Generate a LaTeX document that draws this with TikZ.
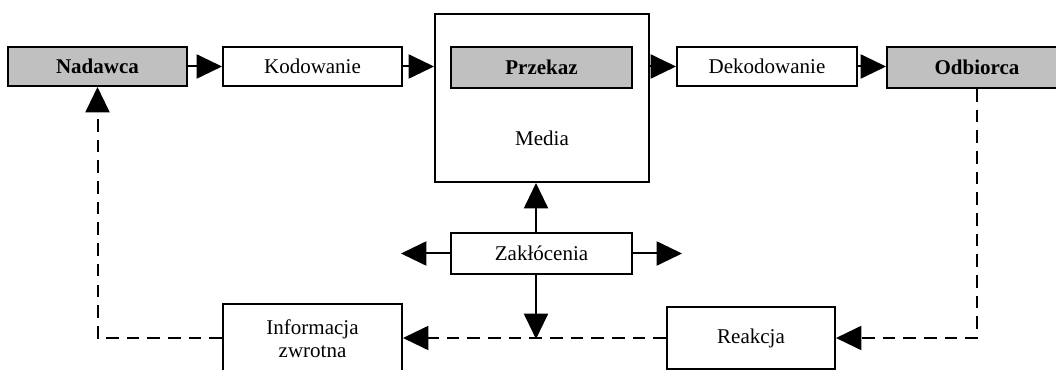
\documentclass[tikz,border=0pt]{standalone}
\usepackage{fontspec}
\setmainfont{Liberation Serif}
\usetikzlibrary{arrows.meta}
\definecolor{boxgray}{HTML}{C0C0C0}
\begin{document}
\begin{tikzpicture}[x=0.75pt,y=-0.75pt,
  every node/.style={font=\fontsize{15.75}{18.5}\selectfont},
  box/.style={draw=black,line width=1.5pt,fill=white,inner sep=0pt,align=center},
  graybox/.style={box,fill=boxgray,font=\fontsize{15.75}{18.5}\selectfont\bfseries},
  arr/.style={line width=1.5pt,-{Triangle[length=19pt,width=18pt]}},
  dsh/.style={dash pattern=on 9.5pt off 6pt}]
\useasboundingbox (0,0) rectangle (1056,370);
\clip (0,0) rectangle (1056,370);
\fill[white] (0,0) rectangle (1056,370);
% nodes
\node[graybox,minimum width=134.25pt,minimum height=29.25pt] (N) at (97.5,66.5) {Nadawca};
\node[box,minimum width=134.25pt,minimum height=29.25pt] (K) at (312.5,66.5) {Kodowanie};
\node[box,minimum width=160.5pt,minimum height=126pt] (M) at (542,98) {};
\node[graybox,minimum width=135.75pt,minimum height=30.75pt] (P) at (541.5,67.5) {Przekaz};
\node (Mt) at (542,138) {Media};
\node[box,minimum width=135pt,minimum height=29.25pt] (D) at (767,66.5) {Dekodowanie};
\node[graybox,minimum width=135pt,minimum height=30.75pt] (O) at (977,67.5) {Odbiorca};
\node[box,minimum width=135.75pt,minimum height=30.75pt] (Z) at (541.5,253.5) {Zakłócenia};
\node[box,minimum width=134.25pt,minimum height=51.75pt] (I) at (312.5,338.5) {Informacja\\[-1pt]zwrotna};
\node[box,minimum width=126pt,minimum height=46.5pt] (R) at (751,338) {Reakcja};
% free ends
\coordinate (zx) at (536,0);
\coordinate (zl) at (401,253.5);
\coordinate (zr) at (682,253.5);
\coordinate (zd) at (536,339);
% main flow
\draw[arr] (N.east) -- (K.west);
\draw[arr] (K.east) -- (M.west |- K.east);
\draw[arr] (M.east |- D.west) -- (D.west);
\draw[arr] (D.east) -- (D.east -| O.west);
% noise
\draw[arr] (zx |- Z.north) -- (zx |- M.south);
\draw[arr] (zx |- Z.south) -- (zd);
\draw[arr] (Z.west) -- (zl);
\draw[arr] (Z.east) -- (zr);
% feedback
\draw[arr,dsh] (O.south) |- (R.east);
\draw[arr,dsh] (R.west) -- (I.east |- R.west);
\draw[arr,dsh] (I.west |- R.west) -| (N.south);
\end{tikzpicture}
\end{document}
